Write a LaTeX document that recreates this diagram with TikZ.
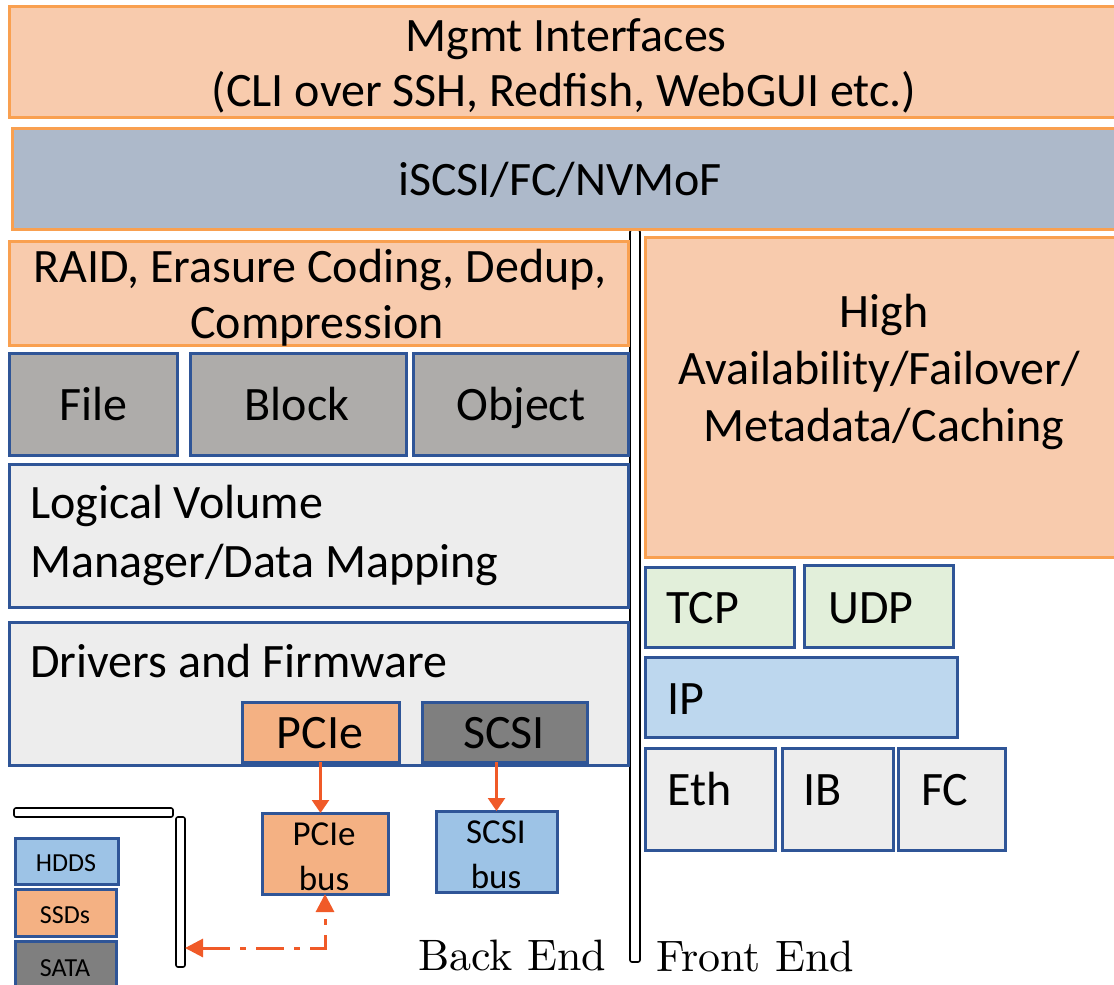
\documentclass[tikz,border=0pt]{standalone}
\usepackage{fontspec}
\newfontfamily\calib{Carlito}
\newfontfamily\lmten[Extension=.otf]{lmroman10-regular}
\usetikzlibrary{arrows.meta}

\definecolor{ofill}{HTML}{F8CBAD}
\definecolor{oline}{HTML}{F9A050}
\definecolor{netfill}{HTML}{ADB9CA}
\definecolor{midgray}{HTML}{AEACAA}
\definecolor{lightgray}{HTML}{EDEDED}
\definecolor{peach}{HTML}{F4B183}
\definecolor{darkgray}{HTML}{7F7F7F}
\definecolor{skyblue}{HTML}{9DC3E6}
\definecolor{paleblue}{HTML}{BDD7EE}
\definecolor{palegreen}{HTML}{E2EFDA}
\definecolor{bline}{HTML}{2F5597}
\definecolor{redorange}{HTML}{F05A28}

\tikzset{
  box/.style={rectangle, inner sep=0pt, outer sep=0pt, anchor=north west, line width=3pt},
  obox/.style={box, draw=oline, fill=ofill},
  bbox/.style={box, draw=bline},
  bar/.style={rectangle, inner sep=0pt, outer sep=0pt, anchor=north west, draw=black,
              fill=white, line width=1.6pt, rounded corners=2pt},
  lbl/.style={inner sep=0pt, font=\calib\fontsize{48}{58}\selectfont},
  midlbl/.style={inner sep=0pt, font=\calib\fontsize{35}{45}\selectfont},
  smalllbl/.style={inner sep=0pt, font=\calib\fontsize{26}{30}\selectfont},
  serif/.style={inner sep=0pt, font=\lmten\fontsize{44}{50}\selectfont},
  busarrow/.style={draw=redorange, line width=2.5pt,
                   -{Triangle[length=13pt,width=17pt]}},
  linkarrow/.style={draw=redorange, line width=3pt,
                    dash pattern=on 28pt off 10pt on 6pt off 10pt,
                    {Triangle[length=18pt,width=18pt]}-{Triangle[length=18pt,width=18pt]}}
}

\begin{document}
\begin{tikzpicture}[x=1pt,y=-1pt]
\clip (0,0) rectangle (1114,985);

% divider between back end and front end
\node[bar, minimum width=10pt, minimum height=732pt] (midbar) at (630,230) {};

% top layers
\node[obox, minimum width=1116pt, minimum height=111pt] (mgmt) at (9.5,6) {};
\node[box, draw=oline, fill=netfill, minimum width=1113pt, minimum height=101pt] (net) at (12,128) {};

% back end stack
\node[obox, minimum width=619pt, minimum height=104pt] (raid) at (9,241) {};
\node[bbox, fill=midgray, minimum width=168pt, minimum height=102pt] (file) at (9,353) {};
\node[bbox, fill=midgray, minimum width=216pt, minimum height=102pt] (block) at (190,353) {};
\node[bbox, fill=midgray, minimum width=215pt, minimum height=102pt] (object) at (413,353) {};
\node[bbox, fill=lightgray, minimum width=619pt, minimum height=143pt] (lvm) at (9,464) {};
\node[bbox, fill=lightgray, minimum width=619pt, minimum height=143pt] (drv) at (9,622) {};
\node[bbox, fill=peach, minimum width=157pt, minimum height=60pt] (pcie) at (242,702) {};
\node[bbox, fill=darkgray, minimum width=165pt, minimum height=60pt] (scsi) at (422,702) {};
\node[bbox, fill=peach, minimum width=126pt, minimum height=81pt] (pbus) at (262,813) {};
\node[bbox, fill=skyblue, minimum width=121pt, minimum height=81pt] (sbus) at (436,811) {};

% device bracket and device types
\node[bar, minimum width=159pt, minimum height=9pt] (hbar) at (14,808) {};
\node[bar, minimum width=9pt, minimum height=150pt] (vbar) at (176,817) {};
\node[bbox, fill=skyblue, minimum width=103pt, minimum height=46pt] (hdds) at (15,838) {};
\node[bbox, fill=peach, minimum width=101pt, minimum height=47pt] (ssds) at (15,889) {};
\node[bbox, fill=darkgray, minimum width=101pt, minimum height=54pt] (sata) at (15,941) {};

% front end stack
\node[obox, minimum width=480pt, minimum height=320pt] (ha) at (645,237) {};
\node[bbox, fill=palegreen, minimum width=149pt, minimum height=80pt] (tcp) at (645,567) {};
\node[bbox, fill=palegreen, minimum width=149pt, minimum height=82pt] (udp) at (804,565) {};
\node[bbox, fill=paleblue, minimum width=312pt, minimum height=80pt] (ip) at (645,657) {};
\node[bbox, fill=lightgray, minimum width=130pt, minimum height=102pt] (eth) at (645,748) {};
\node[bbox, fill=lightgray, minimum width=111pt, minimum height=102pt] (ib) at (782,748) {};
\node[bbox, fill=lightgray, minimum width=107pt, minimum height=102pt] (fc) at (898,748) {};

% labels
\node[lbl, anchor=base] (mgmtA) at (566,51) {Mgmt Interfaces};
\node[lbl, anchor=base] (mgmtB) at (564,106) {(CLI over SSH, Redfish, WebGUI etc.)};
\node[lbl, anchor=base] (netT) at (560,195) {iSCSI/FC/NVMoF};
\node[lbl, anchor=base] (raidA) at (320,282) {RAID, Erasure Coding, Dedup,};
\node[lbl, anchor=base] (raidB) at (317,338) {Compression};
\node[lbl, anchor=base] (fileT) at (93,420) {File};
\node[lbl, anchor=base] (blockT) at (297,420) {Block};
\node[lbl, anchor=base] (objectT) at (521,420) {Object};
\node[lbl, anchor=base west] (lvmA) at (30,518) {Logical Volume};
\node[lbl, anchor=base west] (lvmB) at (30,577) {Manager/Data Mapping};
\node[lbl, anchor=base west] (drvT) at (30,677) {Drivers and Firmware};
\node[lbl, anchor=base] (pcieT) at (320,748) {PCIe};
\node[lbl, anchor=base] (scsiT) at (504,748) {SCSI};
\node[midlbl, anchor=base] (pbusA) at (324,845) {PCIe};
\node[midlbl, anchor=base] (pbusB) at (324,890) {bus};
\node[midlbl, anchor=base] (sbusA) at (496,843) {SCSI};
\node[midlbl, anchor=base] (sbusB) at (496,888) {bus};
\node[smalllbl, anchor=base] (hddsT) at (66,871) {HDDS};
\node[smalllbl, anchor=base] (ssdsT) at (65,923) {SSDs};
\node[smalllbl, anchor=base] (sataT) at (65,976) {SATA};
\node[lbl, anchor=base] (haA) at (884,327) {High};
\node[lbl, anchor=base] (haB) at (879,384) {Availability/Failover/};
\node[lbl, anchor=base] (haC) at (884,441) {Metadata/Caching};
\node[lbl, anchor=base west] (tcpT) at (666,623) {TCP};
\node[lbl, anchor=base west] (udpT) at (828,623) {UDP};
\node[lbl, anchor=base west] (ipT) at (667,714) {IP};
\node[lbl, anchor=base west] (ethT) at (667,805) {Eth};
\node[lbl, anchor=base west] (ibT) at (803,805) {IB};
\node[lbl, anchor=base west] (fcT) at (921,805) {FC};
\node[serif, anchor=base west] (backT) at (418,970) {Back End};
\node[serif, anchor=base west] (frontT) at (656,971) {Front End};

% connectors
\draw[busarrow] (pcie.south) -- (pcie.south |- pbus.north);
\draw[busarrow] (sbus.north |- scsi.south) -- (sbus.north);
\coordinate (bend) at (pbus.south |- 0,948);
\draw[linkarrow] (vbar.east |- bend) -- (bend) -- (pbus.south);
\end{tikzpicture}
\end{document}
